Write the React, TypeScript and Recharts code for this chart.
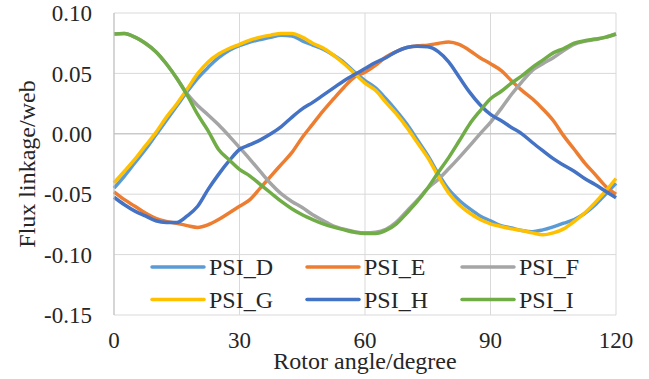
import React from 'react';
import { LineChart, Line, XAxis, YAxis, CartesianGrid, ReferenceLine } from 'recharts';

const angles = [0, 2.5, 5, 7.5, 10, 12.5, 15, 17.5, 20, 22.5, 25, 27.5, 30, 32.5, 35, 37.5, 40, 42.5, 45, 47.5, 50, 52.5, 55, 57.5, 60, 62.5, 65, 67.5, 70, 72.5, 75, 77.5, 80, 82.5, 85, 87.5, 90, 92.5, 95, 97.5, 100, 102.5, 105, 107.5, 110, 112.5, 115, 117.5, 120];

const psiD = [-0.045, -0.035, -0.024, -0.013, -0.001, 0.011, 0.023, 0.035, 0.046, 0.055, 0.063, 0.069, 0.073, 0.076, 0.078, 0.08, 0.0815, 0.081, 0.077, 0.0735, 0.07, 0.065, 0.059, 0.051, 0.044, 0.038, 0.029, 0.019, 0.008, -0.005, -0.018, -0.033, -0.046, -0.055, -0.062, -0.068, -0.072, -0.076, -0.078, -0.08, -0.081, -0.0795, -0.077, -0.074, -0.071, -0.066, -0.059, -0.05, -0.041];
const psiE = [-0.048, -0.0545, -0.06, -0.0656, -0.07, -0.0725, -0.074, -0.076, -0.0775, -0.0753, -0.071, -0.0656, -0.06, -0.0545, -0.0448, -0.035, -0.0253, -0.0156, -0.003, 0.008, 0.019, 0.029, 0.0386, 0.047, 0.051, 0.0567, 0.0636, 0.068, 0.0714, 0.0728, 0.0734, 0.0748, 0.076, 0.074, 0.069, 0.063, 0.058, 0.0525, 0.044, 0.036, 0.029, 0.0206, 0.011, -0.0017, -0.0128, -0.024, -0.0336, -0.0434, -0.05];
const psiF = [0.0826, 0.083, 0.08, 0.075, 0.068, 0.058, 0.046, 0.033, 0.0234, 0.0156, 0.0075, -0.0017, -0.0114, -0.0211, -0.0314, -0.0414, -0.0498, -0.056, -0.061, -0.067, -0.0717, -0.0765, -0.079, -0.081, -0.082, -0.0815, -0.079, -0.073, -0.064, -0.055, -0.045, -0.0378, -0.029, -0.0197, -0.01, 0.0, 0.0095, 0.0206, 0.0325, 0.043, 0.0525, 0.058, 0.063, 0.069, 0.074, 0.0765, 0.078, 0.0798, 0.0826];
const psiG = [-0.0406, -0.031, -0.021, -0.01, 0.001, 0.0136, 0.0247, 0.037, 0.0498, 0.0595, 0.066, 0.0706, 0.074, 0.0776, 0.08, 0.0817, 0.083, 0.083, 0.08, 0.075, 0.071, 0.065, 0.058, 0.05, 0.042, 0.036, 0.026, 0.0164, 0.0053, -0.0072, -0.0197, -0.035, -0.049, -0.0587, -0.0656, -0.071, -0.0745, -0.0767, -0.0787, -0.08, -0.082, -0.0836, -0.082, -0.0787, -0.0726, -0.0656, -0.057, -0.0475, -0.037];
const psiH = [-0.0525, -0.0587, -0.064, -0.068, -0.072, -0.0734, -0.0734, -0.068, -0.06, -0.046, -0.0336, -0.0225, -0.013, -0.009, -0.005, 0.0, 0.006, 0.0136, 0.0206, 0.026, 0.032, 0.038, 0.044, 0.049, 0.054, 0.059, 0.063, 0.068, 0.0714, 0.0725, 0.072, 0.068, 0.0595, 0.047, 0.0345, 0.024, 0.016, 0.011, 0.0053, 0.0, -0.0072, -0.014, -0.0206, -0.026, -0.031, -0.037, -0.042, -0.0475, -0.053];
const psiI = [0.0826, 0.083, 0.08, 0.075, 0.068, 0.058, 0.046, 0.032, 0.016, 0.0025, -0.013, -0.0215, -0.0295, -0.035, -0.042, -0.049, -0.056, -0.062, -0.067, -0.071, -0.0745, -0.0773, -0.0795, -0.0815, -0.0826, -0.0826, -0.08, -0.0745, -0.0656, -0.056, -0.0448, -0.032, -0.0197, -0.006, 0.008, 0.019, 0.029, 0.035, 0.042, 0.048, 0.055, 0.061, 0.067, 0.0706, 0.075, 0.077, 0.0784, 0.08, 0.0826];

const seriesNames = ['PSI_D', 'PSI_E', 'PSI_F', 'PSI_G', 'PSI_H', 'PSI_I'];
const seriesValues = [psiD, psiE, psiF, psiG, psiH, psiI];
const seriesColors = ['#5B9BD5', '#ED7D31', '#A5A5A5', '#FFC000', '#4472C4', '#70AD47'];

const xTicks = [0, 30, 60, 90, 120];
const yTicks = [-0.15, -0.1, -0.05, 0, 0.05, 0.1];

const rows = angles.map((a, i) => {
  const r: Record<string, number> = { angle: a };
  seriesNames.forEach((n, k) => { r[n] = seriesValues[k][i]; });
  return r;
});

const FONT = 'Liberation Serif, Tinos, Times New Roman, DejaVu Serif, serif';
const TEXT = '#262626';

const W = 649;
const H = 379;
const M = { top: 13, right: 33, bottom: 0, left: 14 };
const Y_W = 100;
const X_H = 64;

const tickStyle = { fontFamily: FONT, fontSize: 23, fill: TEXT };

const XTitle = (props: any) => {
  const vb = props.viewBox || {};
  return (
    <text x={vb.x + vb.width / 2} y={vb.y + 54} textAnchor="middle" style={{ fontFamily: FONT }} fontSize={24} fill={TEXT}>
      Rotor angle/degree
    </text>
  );
};

const YTitle = (props: any) => {
  const vb = props.viewBox || {};
  const cx = 35;
  const cy = vb.y + vb.height / 2;
  return (
    <text x={cx} y={cy} textAnchor="middle" style={{ fontFamily: FONT }} fontSize={24} fill={TEXT} transform={`rotate(-90, ${cx}, ${cy})`}>
      Flux linkage/web
    </text>
  );
};

const LegendOverlay = () => {
  const colX = [152, 307, 462];
  const rowY = [267, 299.5];
  return (
    <svg width={W} height={H} style={{ position: 'absolute', left: 0, top: 0, pointerEvents: 'none' }}>
      {seriesNames.map((n, i) => {
        const cx = colX[i % 3];
        const cy = rowY[Math.floor(i / 3)];
        return (
          <g key={n}>
            <line x1={cx} x2={cx + 52} y1={cy} y2={cy} stroke={seriesColors[i]} strokeWidth={3.5} strokeLinecap="round" />
            <text x={cx + 57} y={cy + 8} style={{ fontFamily: FONT }} fontSize={24} fill={TEXT}>{n}</text>
          </g>
        );
      })}
    </svg>
  );
};

export default function App() {
  return (
    <div style={{ position: 'absolute', left: 0, top: 0, width: W, height: H, background: '#fff', fontFamily: FONT }}>
      <LineChart width={W} height={H} data={rows} margin={M} style={{ fontFamily: FONT }}>
        <CartesianGrid stroke="#d9d9d9" strokeWidth={1} />
        <XAxis
          dataKey="angle"
          type="number"
          domain={[0, 120]}
          ticks={xTicks}
          height={X_H}
          axisLine={false}
          tickLine={false}
          tickSize={0}
          tickMargin={17}
          interval={0}
          tick={tickStyle}
          label={<XTitle />}
        />
        <YAxis
          type="number"
          domain={[-0.15, 0.1]}
          ticks={yTicks}
          width={Y_W}
          axisLine={{ stroke: '#bfbfbf', strokeWidth: 1 }}
          tickLine={false}
          tickSize={0}
          tickMargin={22}
          interval={0}
          tickFormatter={(v: number) => v.toFixed(2)}
          tick={tickStyle}
          label={<YTitle />}
        />
        <ReferenceLine y={0} stroke="#bfbfbf" strokeWidth={1} />
        {seriesNames.map((n, i) => (
          <Line
            key={n}
            type="monotone"
            dataKey={n}
            stroke={seriesColors[i]}
            strokeWidth={3.5}
            dot={false}
            activeDot={false}
            isAnimationActive={false}
          />
        ))}
      </LineChart>
      <LegendOverlay />
    </div>
  );
}
